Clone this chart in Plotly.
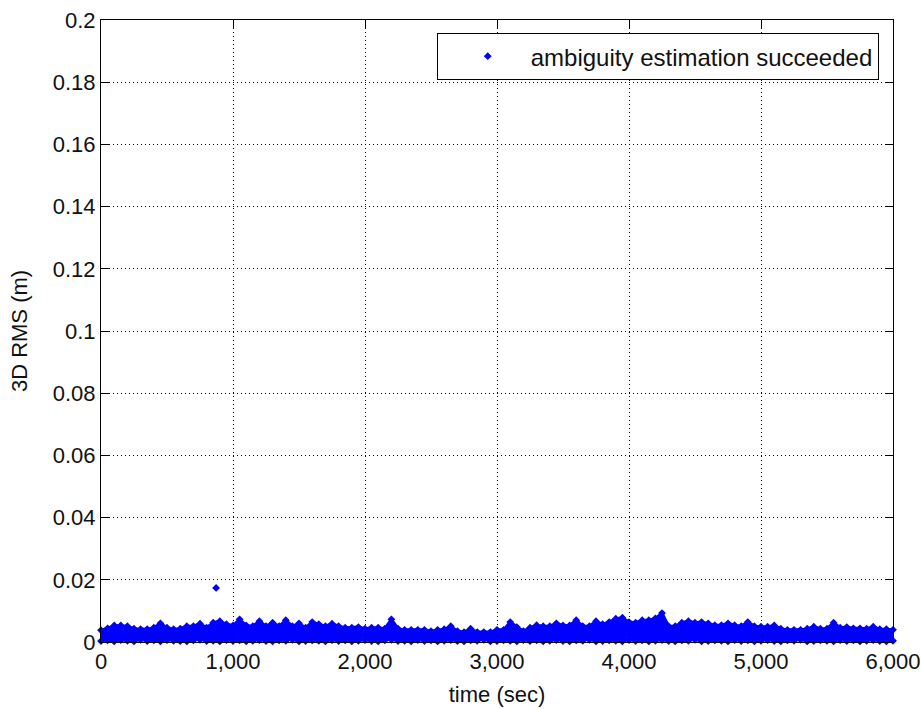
import plotly.graph_objects as go

# ---- data ----
time_s = list(range(0, 6001, 50))  # sample times (sec)

# upper edge of the dense point cloud (3D RMS, m)
rms_upper = [
    0.0038, 0.0044, 0.0053, 0.0053, 0.0051, 0.0043, 0.0041, 0.0041, 0.0046, 0.0060,
    0.0046, 0.0041, 0.0043, 0.0051, 0.0051, 0.0059, 0.0046, 0.0062, 0.0067, 0.0057,
    0.0053, 0.0073, 0.0053, 0.0051, 0.0067, 0.0051, 0.0062, 0.0051, 0.0070, 0.0051,
    0.0060, 0.0046, 0.0064, 0.0057, 0.0051, 0.0059, 0.0051, 0.0046, 0.0046, 0.0048,
    0.0043, 0.0046, 0.0046, 0.0043, 0.0073, 0.0043, 0.0039, 0.0039, 0.0039, 0.0039,
    0.0035, 0.0039, 0.0041, 0.0051, 0.0035, 0.0032, 0.0043, 0.0032, 0.0032, 0.0032,
    0.0039, 0.0039, 0.0064, 0.0048, 0.0035, 0.0046, 0.0054, 0.0051, 0.0051, 0.0060,
    0.0053, 0.0053, 0.0070, 0.0051, 0.0051, 0.0067, 0.0057, 0.0064, 0.0075, 0.0078,
    0.0064, 0.0062, 0.0070, 0.0070, 0.0076, 0.0093, 0.0051, 0.0051, 0.0062, 0.0067,
    0.0062, 0.0064, 0.0060, 0.0054, 0.0054, 0.0060, 0.0054, 0.0051, 0.0064, 0.0051,
    0.0049, 0.0049, 0.0053, 0.0043, 0.0039, 0.0039, 0.0039, 0.0043, 0.0049, 0.0043,
    0.0043, 0.0062, 0.0046, 0.0048, 0.0044, 0.0044, 0.0043, 0.0049, 0.0041, 0.0041,
    0.0039,
]

# lower edge of the point cloud (3D RMS, m)
rms_lower = [
    0.0003, 0.0005, 0.0002, 0.0006, 0.0004, 0.0002, 0.0007, 0.0003, 0.0005, 0.0002,
    0.0006, 0.0004, 0.0003, 0.0002, 0.0005, 0.0007, 0.0003, 0.0004, 0.0002, 0.0006,
    0.0003, 0.0005, 0.0002, 0.0004, 0.0006, 0.0003, 0.0002, 0.0005, 0.0004, 0.0007,
    0.0002, 0.0003, 0.0005, 0.0004, 0.0002, 0.0006, 0.0003, 0.0005, 0.0002, 0.0004,
    0.0006, 0.0003, 0.0002, 0.0005, 0.0007, 0.0003, 0.0004, 0.0002, 0.0006, 0.0003,
    0.0005, 0.0002, 0.0004, 0.0006, 0.0003, 0.0002, 0.0005, 0.0004, 0.0007, 0.0002,
    0.0003, 0.0005, 0.0004, 0.0002, 0.0006, 0.0003, 0.0005, 0.0002, 0.0004, 0.0006,
    0.0003, 0.0002, 0.0005, 0.0004, 0.0007, 0.0002, 0.0003, 0.0005, 0.0004, 0.0002,
    0.0006, 0.0003, 0.0005, 0.0002, 0.0004, 0.0006, 0.0003, 0.0002, 0.0005, 0.0004,
    0.0007, 0.0002, 0.0003, 0.0005, 0.0004, 0.0002, 0.0006, 0.0003, 0.0005, 0.0002,
    0.0004, 0.0006, 0.0003, 0.0002, 0.0005, 0.0004, 0.0007, 0.0002, 0.0003, 0.0005,
    0.0004, 0.0002, 0.0006, 0.0003, 0.0005, 0.0002, 0.0004, 0.0006, 0.0003, 0.0002,
    0.0004,
]

# isolated point above the cloud
outlier_time = [872]
outlier_rms = [0.0174]

x_tick_vals = [0, 1000, 2000, 3000, 4000, 5000, 6000]
x_tick_text = ["0", "1,000", "2,000", "3,000", "4,000", "5,000", "6,000"]
y_tick_vals = [0, 0.02, 0.04, 0.06, 0.08, 0.1, 0.12, 0.14, 0.16, 0.18, 0.2]
y_tick_text = ["0", "0.02", "0.04", "0.06", "0.08", "0.1", "0.12", "0.14", "0.16", "0.18", "0.2"]

series_name = "ambiguity estimation succeeded"
BLUE = "#0000FF"
FONT = "Liberation Sans"
TXT = "#111111"

fig = go.Figure()

# band body (between lower and upper edges)
fig.add_trace(go.Scatter(
    x=time_s, y=rms_lower, mode="lines",
    line=dict(color=BLUE, width=2), showlegend=False, hoverinfo="skip",
))
fig.add_trace(go.Scatter(
    x=time_s, y=rms_upper, mode="lines", fill="tonexty", fillcolor=BLUE,
    line=dict(color=BLUE, width=3), showlegend=False, hoverinfo="skip",
))
# lower edge markers
fig.add_trace(go.Scatter(
    x=time_s, y=rms_lower, mode="markers",
    marker=dict(symbol="diamond", size=6, color=BLUE, line=dict(width=0)),
    cliponaxis=False, showlegend=False,
))
# upper edge markers (legend entry)
fig.add_trace(go.Scatter(
    x=time_s + outlier_time, y=rms_upper + outlier_rms, mode="markers",
    name=series_name,
    marker=dict(symbol="diamond", size=6, color=BLUE, line=dict(width=0)),
    cliponaxis=False, showlegend=True,
))

axis_common = dict(
    showline=True, linecolor="black", linewidth=1, mirror="ticks",
    ticks="inside", ticklen=8, tickwidth=1, tickcolor="black",
    showgrid=True, gridcolor="black", gridwidth=1, griddash="1px,3px",
    zeroline=False, automargin=False,
    tickfont=dict(family=FONT, size=22, color=TXT),
)

fig.update_xaxes(
    range=[0, 6000], tickmode="array", tickvals=x_tick_vals, ticktext=x_tick_text,
    title=dict(text="time (sec)", font=dict(family=FONT, size=22, color=TXT), standoff=13),
    **axis_common,
)
fig.update_yaxes(
    range=[0, 0.2], tickmode="array", tickvals=y_tick_vals, ticktext=y_tick_text,
    title=dict(text="3D RMS (m)", font=dict(family=FONT, size=22, color=TXT), standoff=19),
    **axis_common,
)

fig.update_layout(
    width=921, height=709,
    margin=dict(l=101, r=28, t=20, b=67),
    paper_bgcolor="white", plot_bgcolor="white",
    font=dict(family=FONT, size=22, color=TXT),
    legend=dict(
        x=0.982, y=0.979, xanchor="right", yanchor="top",
        bgcolor="white", bordercolor="black", borderwidth=1,
        font=dict(family=FONT, size=24, color=TXT),
        itemwidth=76, indentation=7,
    ),
    showlegend=True,
)

fig.write_html("out.html")
